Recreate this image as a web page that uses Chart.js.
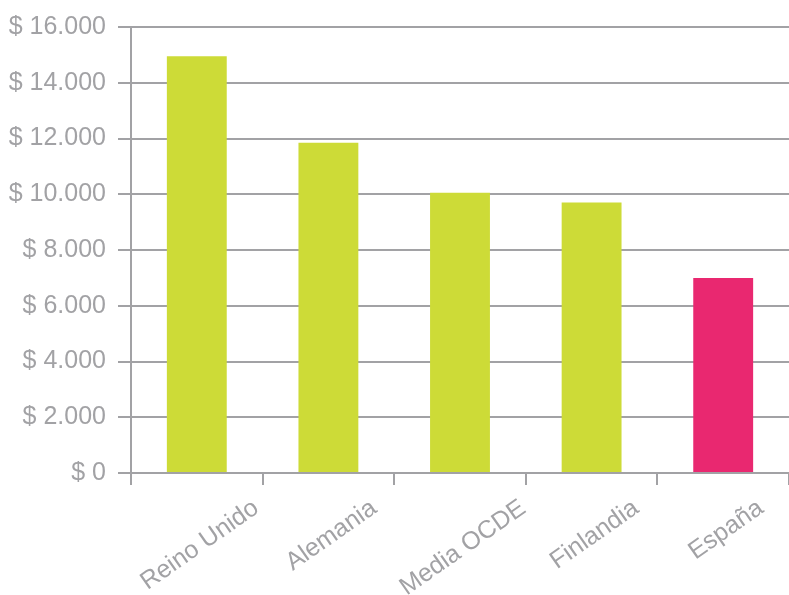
<!DOCTYPE html>
<html>
<head>
	<meta charset="UTF-8">
	<title>chartjs</title>
	<script src="https://cdn.jsdelivr.net/npm/chart.js"></script>
	<style>
	html, body{margin:0; padding:0; background:#fff;}
	#wrap{width:789px; height:595px; position:relative;}
	</style>
</head>
<body>
	<div id="wrap">
	  <canvas id="myChart"></canvas>
	</div>
	<script>
	// datos
	var paises = ['Reino Unido', 'Alemania', 'Media OCDE', 'Finlandia', 'España'];
	var gasto = [14950, 11850, 10050, 9700, 7000];
	var colores = ['#cddb37', '#cddb37', '#cddb37', '#cddb37', '#e92870'];
	var yTicks = [0, 2000, 4000, 6000, 8000, 10000, 12000, 14000, 16000];

	var gris = '#a2a2a5';
	var fuente = 'Liberation Sans';

	function fmt(v){
		return '$ ' + String(v).replace(/\B(?=(\d{3})+(?!\d))/g, '.');
	}

	// etiquetas del eje x giradas y centradas en cada barra
	var etiquetasX = {
		id: 'etiquetasX',
		afterDraw: function(chart){
			var c = chart.ctx;
			var xs = chart.scales.x;
			var ang = 35 * Math.PI / 180;
			var tam = 25;
			c.save();
			c.font = tam + 'px "' + fuente + '"';
			c.fillStyle = gris;
			c.textAlign = 'center';
			c.textBaseline = 'middle';
			paises.forEach(function(txt, i){
				var w = c.measureText(txt).width;
				var h = tam * 0.75;
				var cx = xs.getPixelForValue(i) + 3;
				var cy = xs.top + 25 + (w * Math.sin(ang) + h * Math.cos(ang)) / 2;
				c.save();
				c.translate(cx, cy);
				c.rotate(-ang);
				c.fillText(txt, 0, 0);
				c.restore();
			});
			c.restore();
		}
	};

	const ctx = document.getElementById('myChart');
	new Chart(ctx, {
		type: 'bar',
		data: {
			labels: paises,
			datasets: [{
				data: gasto,
				backgroundColor: colores,
				borderWidth: 0,
				barPercentage: 0.455,
				categoryPercentage: 1
			}]
		},
		options: {
			responsive: true,
			maintainAspectRatio: false,
			animation: false,
			layout: { padding: { top: 18, right: 0, left: 0, bottom: 0 } },
			plugins: { legend: { display: false }, tooltip: { enabled: false } },
			scales: {
				x: {
					grid: { drawOnChartArea: false, color: gris, lineWidth: 2, tickLength: 12, offset: true },
					border: { color: gris, width: 2 },
					ticks: { display: false },
					afterFit: function(s){ s.height = 122; }
				},
				y: {
					min: 0, max: 16000,
					afterBuildTicks: function(s){ s.ticks = yTicks.map(function(v){ return {value: v}; }); },
					grid: { color: gris, lineWidth: 2, tickLength: 13 },
					border: { color: gris, width: 2 },
					ticks: {
						color: gris,
						font: { family: fuente, size: 25 },
						padding: 12,
						callback: function(v){ return fmt(v); }
					},
					afterFit: function(s){ s.width = 131; }
				}
			}
		},
		plugins: [etiquetasX]
	});
	</script>
</body>
</html>
